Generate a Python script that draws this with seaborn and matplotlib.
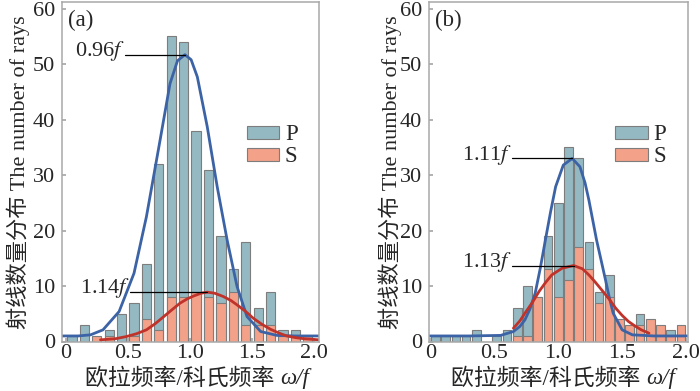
import numpy as np
import pandas as pd
import seaborn as sns
import matplotlib.pyplot as plt
from matplotlib.patches import Patch

sns.set_theme(style='ticks')
plt.rcParams['font.family'] = ['Liberation Serif', 'Noto Sans CJK SC']
plt.rcParams['mathtext.fontset'] = 'stix'

# panel (a): bins of 0.1
edges_a = np.linspace(0, 2.0, 21)
centers_a = (edges_a[:-1] + edges_a[1:]) / 2
p_a = [1, 3, 0, 2, 5, 7, 14, 32, 55, 54, 38, 31, 19, 13, 18, 6, 9, 2, 2, 1]
s_a = [0, 0, 1, 1, 0, 1, 4, 2, 8, 8, 9, 8, 7, 9, 3, 3, 3, 1, 1, 1]

# panel (b): bins of 0.08
edges_b = np.linspace(0, 2.0, 26)
centers_b = (edges_b[:-1] + edges_b[1:]) / 2
p_b = [1, 1, 1, 1, 2, 0, 1, 2, 6, 10, 8, 19, 25, 35, 33, 18, 9, 12, 3, 2, 5, 3, 2, 2, 0]
s_b = [0, 0, 0, 0, 0, 0, 0, 0, 1, 1, 8, 13, 8, 11, 17, 13, 7, 8, 4, 3, 3, 4, 3, 1, 3]

# fitted curves
pfit_a_x = [-0.03, 0.10, 0.20, 0.30, 0.43, 0.55, 0.65, 0.76, 0.84, 0.90, 0.96, 1.01, 1.06, 1.14, 1.22,
            1.30, 1.38, 1.46, 1.57, 1.70, 1.85, 2.04]
pfit_a_y = [1.0, 1.0, 1.2, 2.1, 5.4, 12.3, 22.5, 36.3, 46.5, 50.6, 51.7, 50.8, 47.7, 38.7, 27.9,
            18.3, 9.9, 4.5, 1.8, 1.1, 1.0, 1.0]
sfit_a_x = [0.28, 0.40, 0.49, 0.57, 0.65, 0.72, 0.79, 0.86, 0.92, 0.98, 1.03, 1.09, 1.14, 1.20, 1.27,
            1.33, 1.38, 1.45, 1.51, 1.58, 1.65, 1.72, 1.78, 1.85, 1.92, 2.04]
sfit_a_y = [0.3, 0.5, 0.9, 1.4, 2.1, 3.2, 4.5, 5.8, 6.9, 7.7, 8.2, 8.7, 8.9, 8.7, 8.1,
            7.4, 6.6, 5.4, 4.2, 3.1, 2.2, 1.5, 1.0, 0.7, 0.5, 0.3]

pfit_b_x = [-0.01, 0.30, 0.55, 0.65, 0.70, 0.74, 0.78, 0.82, 0.86, 0.90, 0.94, 0.98, 1.04, 1.11,
            1.17, 1.21, 1.24, 1.27, 1.30, 1.34, 1.37, 1.40, 1.43, 1.50, 1.58, 1.75, 2.015]
pfit_b_y = [1.0, 1.0, 1.1, 1.8, 2.7, 3.9, 5.9, 8.7, 13.2, 18.3, 23.3, 27.9, 31.8, 33.0,
            31.5, 28.6, 25.5, 21.9, 18.3, 14.2, 11.1, 7.9, 5.1, 2.1, 1.2, 1.0, 1.0]
sfit_b_x = [0.65, 0.70, 0.74, 0.80, 0.85, 0.90, 0.95, 1.03, 1.12, 1.19, 1.24, 1.29, 1.34, 1.40,
            1.45, 1.50, 1.55, 1.60, 1.65, 1.71]
sfit_b_y = [2.4, 3.7, 5.1, 7.1, 9.0, 10.6, 12.0, 13.2, 13.7, 13.1, 12.0, 10.7, 9.3, 7.6,
            6.0, 4.7, 3.6, 2.8, 2.1, 1.5]

# annotations: label, text end x, peak x, level
notes_a = [('0.96', 0.48, 0.96, 51.7), ('1.14', 0.52, 1.14, 9.0)]
notes_b = [('1.11', 0.64, 1.11, 33.0), ('1.13', 0.64, 1.12, 13.7)]

P_COLOR = '#95b9c2'
S_COLOR = '#f3a189'
P_LINE = '#3c63a6'
S_LINE = '#c0332b'
EDGE = '#7d7d7d'
SPINE = '#a8a8a8'

fig = plt.figure(figsize=(7, 3.91), dpi=100)
ax_a = fig.add_axes([62 / 700, 49.5 / 391, 257 / 700, 339.5 / 391])
ax_b = fig.add_axes([429 / 700, 49.5 / 391, 259 / 700, 339.5 / 391])


def draw_panel(ax, centers, edges, p, s, shrink, pfx, pfy, sfx, sfy, notes, xlim, tag, ylab_x, split_x):
    df = pd.DataFrame({'x': centers, 'P': p, 'S': s})
    dp = df[df['P'] > 0]
    ds = df[df['S'] > 0]
    bins = [float(e) for e in edges]
    sns.histplot(data=dp, x='x', weights='P', bins=bins, shrink=shrink, color=P_COLOR,
                 edgecolor=EDGE, linewidth=0.8, alpha=1, ax=ax)
    sns.histplot(data=ds, x='x', weights='S', bins=bins, shrink=shrink, color=S_COLOR,
                 edgecolor=EDGE, linewidth=0.8, alpha=1, ax=ax)
    sns.lineplot(x=pfx, y=pfy, color=P_LINE, linewidth=2, ax=ax)
    sns.lineplot(x=sfx, y=sfy, color=S_LINE, linewidth=2, ax=ax)

    for lab, x0, x1, lev in notes:
        ax.plot([x0, x1], [lev, lev], color='black', linewidth=0.9)
        ax.text(x0, lev + 0.6, lab + '$f$', ha='right', va='center', fontsize=16)

    ax.set_xlim(*xlim)
    ax.set_ylim(0, 61.2)
    ax.set_xticks([0, 0.5, 1.0, 1.5, 2.0])
    ax.set_xticklabels(['0', '0.5', '1.0', '1.5', '2.0'])
    ax.set_yticks(range(0, 61, 10))
    ax.tick_params(direction='in', length=3, color=SPINE, labelsize=16, pad=2)
    ax.tick_params(axis='y', pad=5)
    for sp in ax.spines.values():
        sp.set_visible(True)
        sp.set_color(SPINE)
        sp.set_linewidth(1.1)
    ax.set_xlabel('')
    ax.set_ylabel('')

    ax.text(0.022, 0.945, tag, transform=ax.transAxes, ha='left', va='center', fontsize=16.5)
    ax.text(ylab_x, 0.5, '射线数量分布 The number of rays', transform=ax.transAxes,
            rotation=90, ha='center', va='center', fontsize=16)
    ax.text(split_x, -0.11, '欧拉频率/科氏频率 ', transform=ax.transAxes,
            ha='right', va='center', fontsize=16.5)
    ax.text(split_x, -0.11, 'ω/f', transform=ax.transAxes, style='italic',
            ha='left', va='center', fontsize=16.5)

    handles = [Patch(facecolor=P_COLOR, edgecolor=EDGE, linewidth=0.8, label='P'),
               Patch(facecolor=S_COLOR, edgecolor=EDGE, linewidth=0.8, label='S')]
    ax.legend(handles=handles, loc='upper left', bbox_to_anchor=(0.72, 0.64), frameon=False,
              fontsize=16.5, handlelength=1.4, handleheight=0.5, handletextpad=0.25,
              labelspacing=0.05, borderpad=0, borderaxespad=0)


draw_panel(ax_a, centers_a, edges_a, p_a, s_a, 0.74, pfit_a_x, pfit_a_y, sfit_a_x, sfit_a_y,
           notes_a, (-0.03, 2.04), '(a)', -0.17, 0.85)
draw_panel(ax_b, centers_b, edges_b, p_b, s_b, 0.85, pfit_b_x, pfit_b_y, sfit_b_x, sfit_b_y,
           notes_b, (-0.01, 2.015), '(b)', -0.15, 0.84)

fig.savefig('out.png', dpi=100)
